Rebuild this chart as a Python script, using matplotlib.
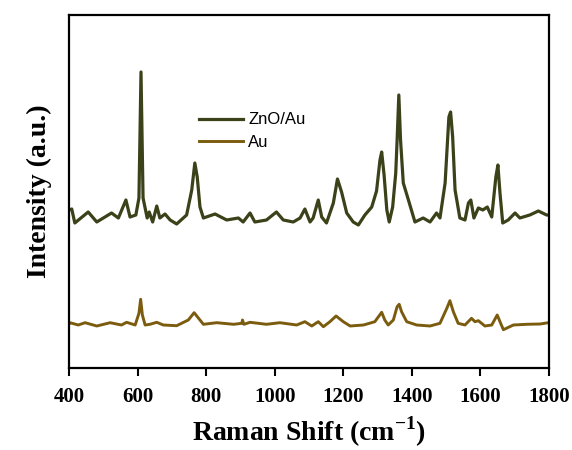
import numpy as np
import matplotlib.pyplot as plt

plt.rcParams['mathtext.fontset'] = 'custom'
plt.rcParams['mathtext.rm'] = 'Liberation Serif'
plt.rcParams['mathtext.bf'] = 'Liberation Serif:bold'

# ZnO/Au spectrum
wn_zno = [400, 408, 417, 456, 481, 524, 544, 566, 578, 595, 604, 610, 616, 628, 634, 644, 656, 665,
          680, 695, 714, 743, 758, 767, 774, 782, 792, 826, 860, 894, 908, 928, 942, 976, 1005,
          1025, 1054, 1074, 1088, 1103, 1112, 1127, 1137, 1151, 1171, 1183, 1195, 1210, 1229,
          1244, 1263, 1283, 1297, 1307, 1312, 1319, 1327, 1334, 1344, 1353, 1357, 1362, 1367,
          1375, 1390, 1409, 1433, 1453, 1472, 1482, 1497, 1508, 1513, 1519, 1526, 1540, 1555,
          1565, 1572, 1581, 1594, 1607, 1620, 1633, 1645, 1651, 1657, 1665, 1681, 1701, 1715,
          1744, 1769, 1793, 1800]
i_zno = [158, 159, 145, 156, 146, 155, 150, 168, 151, 153, 170, 296, 170, 150, 156, 146, 162, 150,
         154, 148, 144, 153, 178, 205, 191, 161, 150, 154, 148, 150, 146, 155, 146, 148, 156,
         148, 146, 150, 159, 146, 150, 168, 151, 145, 165, 189, 176, 155, 146,
         143, 153, 161, 177, 208, 216, 193, 158, 146, 161, 195, 228, 273, 228,
         185, 168, 146, 150, 146, 155, 150, 185, 251, 256, 231, 178, 150, 148,
         165, 168, 150, 160, 158, 161, 151, 191, 203, 175, 145, 148, 155, 150,
         153, 157, 153, 153]

# Au spectrum
wn_au = [400, 403, 427, 447, 481, 520, 553, 568, 593, 604, 609, 614, 622, 636, 656, 675, 714, 748,
         765, 778, 792, 831, 880, 904, 906, 910, 928, 976, 1015, 1064, 1088, 1108, 1127, 1142,
         1161, 1179, 1200, 1220, 1259, 1292, 1312, 1321, 1331, 1346, 1357, 1363, 1370, 1385,
         1414, 1453, 1482, 1502, 1511, 1521, 1535, 1555, 1574, 1584, 1594, 1613, 1633, 1649,
         1659, 1667, 1696, 1735, 1774, 1798, 1800]
i_au = [44, 45.3, 43, 45.3, 42, 45.3, 43, 45.7, 43, 54.7, 68.7, 53, 43, 43.7, 45.7, 43, 42.3, 48,
        55.3, 49.7, 43.7, 45.3, 43.7, 44.7, 48, 43.7, 45.7, 43.7, 45.3, 43, 46.3, 42, 46.3, 41.3,
        46.3, 52, 46.3, 42, 43, 46.3, 55.7, 48, 43, 48, 61.3, 63.7, 56.3, 46.3,
        43, 42, 44.7, 59.7, 67.3, 56.3, 44.7, 43, 49.7, 46.3, 47.3, 42, 43, 53,
        44.7, 38.3, 43, 43.7, 44, 45.3, 45.3]

xticks = [400, 600, 800, 1000, 1200, 1400, 1600, 1800]

fig = plt.figure(figsize=(5.72, 4.5), dpi=100)
ax = fig.add_axes([69/572, 82/450, 480/572, 353/450])

ax.plot(wn_zno, i_zno, color='#3b4119', lw=2.3, label='ZnO/Au')
ax.plot(wn_au, i_au, color='#7b5c0f', lw=2.1, label='Au')

ax.set_xlim(400, 1800)
ax.set_ylim(0, 353)
ax.set_xticks(xticks)
ax.set_yticks([])
ax.tick_params(axis='x', direction='out', length=6, width=1.5, pad=8)
for lab in ax.get_xticklabels():
    lab.set_fontfamily('Liberation Serif')
    lab.set_fontweight('bold')
    lab.set_fontsize(15)
for s in ax.spines.values():
    s.set_linewidth(1.6)

ax.set_xlabel('Raman Shift (cm$^{\\mathbf{-1}}$)', fontfamily='Liberation Serif',
              fontweight='bold', fontsize=20, labelpad=5)
ax.set_ylabel('Intensity (a.u.)', fontfamily='Liberation Serif', fontweight='bold',
              fontsize=20, labelpad=12)

leg = ax.legend(loc='upper left', bbox_to_anchor=(0.271, 0.724), frameon=False,
                prop={'family': 'Liberation Sans', 'size': 12}, handlelength=2.65,
                handletextpad=0.3, borderpad=0, borderaxespad=0, labelspacing=0.45)

fig.savefig('out.png', dpi=100)
